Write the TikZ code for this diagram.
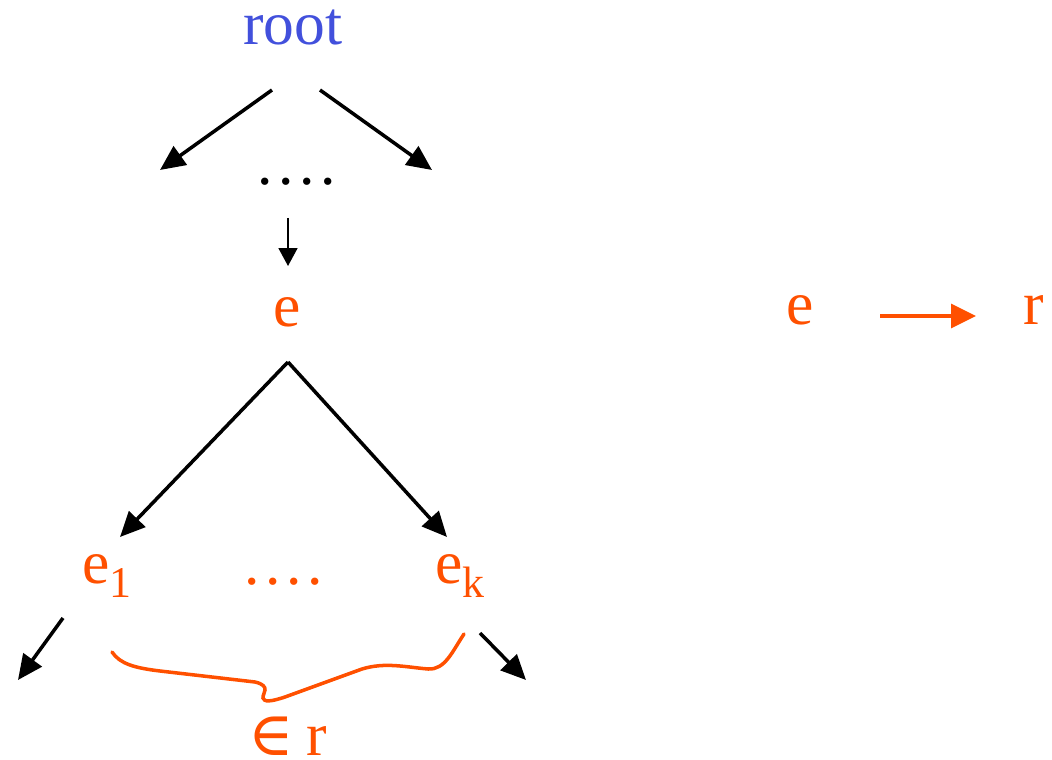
\documentclass[tikz,border=0pt]{standalone}
\usepackage{fontspec}
\setmainfont{Liberation Serif}
\newfontfamily\symfont{DejaVu Serif}
\usetikzlibrary{arrows.meta}
\definecolor{RootBlue}{RGB}{66,80,220}
\definecolor{SetOrange}{RGB}{255,80,0}
\newcommand{\rowdots}{.\kern0.09em.\kern0.09em.\kern0.09em.}
\newcommand{\lowidx}[1]{\raisebox{-8.5pt}{\fontsize{25}{28}\selectfont #1}}

\begin{document}
\begin{tikzpicture}[x=0.02cm,y=-0.02cm,every node/.style={font=\fontsize{35}{40}\selectfont,inner sep=0pt},
  bigarrow/.style={-{Triangle[length=0.5cm,width=0.45cm]},line width=2pt},
  smallarrow/.style={-{Triangle[length=0.36cm,width=0.38cm]},line width=1pt},
  maparrow/.style={-{Triangle[length=0.5cm,width=0.48cm]},line width=2pt,SetOrange},
  bracecurve/.style={SetOrange,line width=2pt,line cap=round}]
\useasboundingbox (0,0) rectangle (1052,760);
% tree
\node[anchor=base,text=RootBlue] (root) at (293,45) {root};
\node[anchor=base] (topdots) at (297,185) {\rowdots};
\node[anchor=base,text=SetOrange] (e) at (287,327) {e};
\node[anchor=base west,text=SetOrange] (e1) at (82,583) {e\lowidx{1}};
\node[anchor=base,text=SetOrange] (lowdots) at (284,584) {\rowdots};
\node[anchor=base west,text=SetOrange] (ek) at (435,583) {e\lowidx{k}};
\node[anchor=base,text=SetOrange] (member) at (288,755) {{\symfont ∈}\kern0.2em r};
% mapping
\node[anchor=base,text=SetOrange] (me) at (800,325) {e};
\node[anchor=base,text=SetOrange] (mr) at (1034,325) {r};
\coordinate (rootL) at (272,90);
\coordinate (rootR) at (320,90);
\coordinate (outL) at (160,170);
\coordinate (outR) at (432,170);
\coordinate (dotsout) at (288,218);
\coordinate (ein) at (288,266);
\coordinate (efork) at (288,362);
\coordinate (e1in) at (120,537);
\coordinate (ekin) at (447,537);
\coordinate (e1out) at (63,618);
\coordinate (e1end) at (18,680);
\coordinate (ekout) at (480,633);
\coordinate (ekend) at (526,680);
\coordinate (mstart) at (880,316);
\coordinate (mend) at (976,316);
\draw[bigarrow] (rootL) -- (outL);
\draw[bigarrow] (rootR) -- (outR);
\draw[smallarrow] (dotsout) -- (ein);
\draw[bigarrow] (efork) -- (e1in);
\draw[bigarrow] (efork) -- (ekin);
\draw[bigarrow] (e1out) -- (e1end);
\draw[bigarrow] (ekout) -- (ekend);
\draw[maparrow] (mstart) -- (mend);
% brace under the children
\draw[bracecurve] (112,652) .. controls (120,664) and (135,668) .. (160,671)
  -- (255,682) .. controls (272,686) and (262,694) .. (263,698)
  .. controls (264,702) and (270,702) .. (285,697)
  -- (362,669) .. controls (385,662) and (405,667) .. (428,669)
  .. controls (445,670) and (452,652) .. (464,634);
\end{tikzpicture}
\end{document}
